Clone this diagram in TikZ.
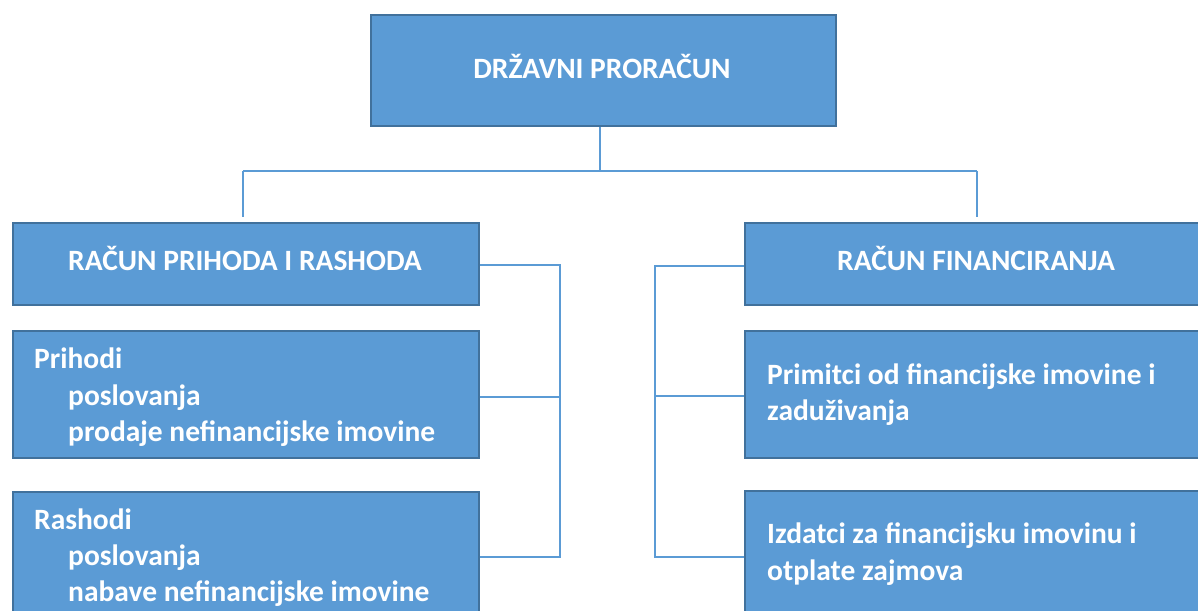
\documentclass[tikz,border=0pt]{standalone}
\usepackage{fontspec}
\setmainfont{Carlito}
\definecolor{boxfill}{HTML}{5B9BD5}
\definecolor{boxline}{HTML}{41719C}
\definecolor{conn}{HTML}{5B9BD5}
\tikzset{
  box/.style={draw=boxline, fill=boxfill, line width=2pt, rectangle, inner sep=0pt, anchor=north west},
  link/.style={draw=conn, line width=2.5pt},
  title/.style={text=white, font=\fontsize{29.5}{36}\selectfont\bfseries, inner sep=0pt, anchor=base},
  body/.style={text=white, font=\fontsize{29.5}{36}\selectfont\bfseries, inner sep=0pt, anchor=base west},
}
\begin{document}
\begin{tikzpicture}[x=1pt, y=-1pt]
\clip (0,0) rectangle (1198,610);
\fill[white] (0,0) rectangle (1198,610);
% boxes
\node[box, minimum width=465pt, minimum height=111pt] (top) at (370,14) {};
\node[box, minimum width=466pt, minimum height=82pt] (L1) at (12,222) {};
\node[box, minimum width=466pt, minimum height=127pt] (L2) at (12,330) {};
\node[box, minimum width=466pt, minimum height=140pt] (L3) at (12,491) {};
\node[box, minimum width=470pt, minimum height=82pt] (R1) at (744,222) {};
\node[box, minimum width=470pt, minimum height=127pt] (R2) at (744,330) {};
\node[box, minimum width=470pt, minimum height=140pt] (R3) at (744,490) {};
% texts
\node[title] (t0) at (602,78) {DRŽAVNI PRORAČUN};
\node[title] (t1) at (245,270) {RAČUN PRIHODA I RASHODA};
\node[title] (t2) at (976,270) {RAČUN FINANCIRANJA};
\node[body] (p1) at (34,368) {Prihodi};
\node[body] (p2) at (68,405) {poslovanja};
\node[body] (p3) at (68,441) {prodaje nefinancijske imovine};
\node[body] (r1) at (34,529) {Rashodi};
\node[body] (r2) at (68,565) {poslovanja};
\node[body] (r3) at (68,601) {nabave nefinancijske imovine};
\node[body] (f1) at (767,384) {Primitci od financijske imovine i};
\node[body] (f2) at (767,420) {zaduživanja};
\node[body] (i1) at (767,543) {Izdatci za financijsku imovinu i};
\node[body] (i2) at (767,580) {otplate zajmova};
% connectors
\coordinate (hub) at (600,171);
\coordinate (hl) at (243,171);
\coordinate (hr) at (977,171);
\coordinate (dl) at (243,217);
\coordinate (dr) at (977,217);
\draw[link] (hub |- top.south) -- (hub);
\draw[link] (hl) -- (hr);
\draw[link] (hl) -- (dl);
\draw[link] (hr) -- (dr);
\coordinate (lt) at (560,265);
\coordinate (lm) at (560,397);
\coordinate (lb) at (560,557);
\draw[link] (L1.east |- lt) -- (lt) -- (lb) -- (L3.east |- lb);
\draw[link] (L2.east |- lm) -- (lm);
\coordinate (rt) at (655,266);
\coordinate (rm) at (655,396);
\coordinate (rb) at (655,557);
\draw[link] (R1.west |- rt) -- (rt) -- (rb) -- (R3.west |- rb);
\draw[link] (R2.west |- rm) -- (rm);
\end{tikzpicture}
\end{document}
